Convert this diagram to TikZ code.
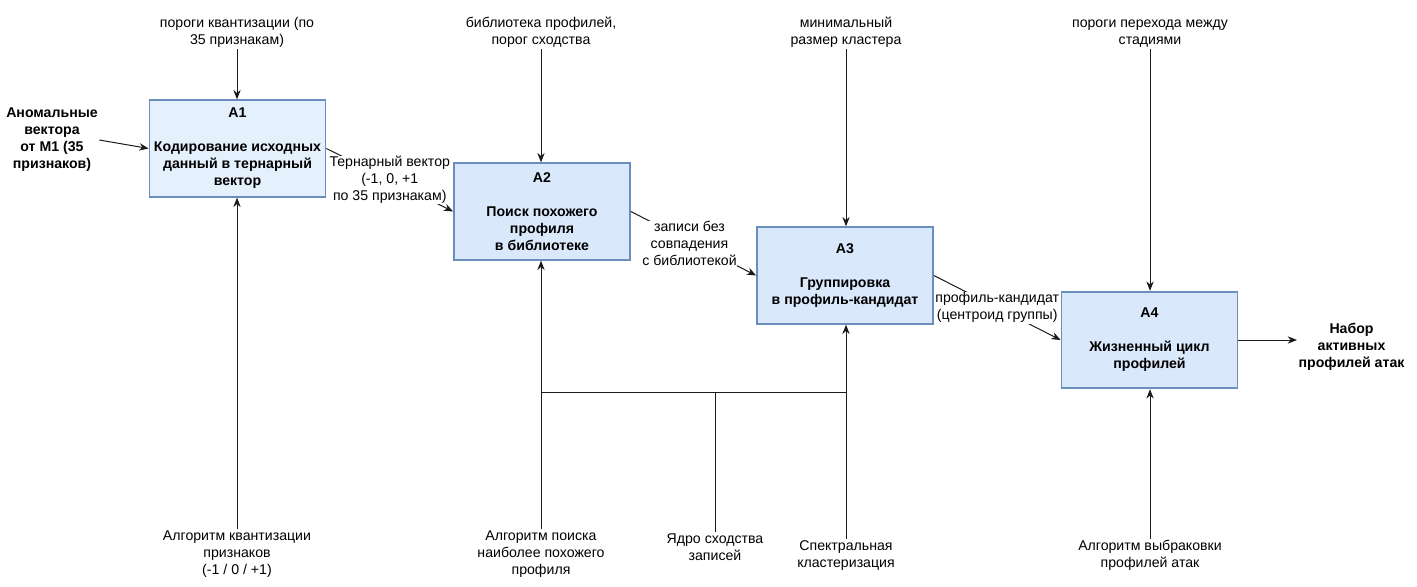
\documentclass[tikz,border=0pt]{standalone}
\usepackage{fontspec}
\setmainfont{Liberation Sans}
\usetikzlibrary{arrows.meta}
\definecolor{boxfill}{HTML}{DAE8FC}
\definecolor{boxfillA}{HTML}{E4F0FC}
\definecolor{boxline}{HTML}{6C8EBF}
\definecolor{wire}{HTML}{1A1A1A}
\tikzset{
  func/.style={draw=boxline, line width=1.3pt, fill=boxfill, minimum width=132pt,
    minimum height=72.5pt, align=center, inner sep=0pt,
    font=\fontsize{10.6}{12.75}\selectfont\bfseries},
  lbl/.style={align=center, inner sep=1pt, font=\fontsize{10.6}{12.75}\selectfont},
  blbl/.style={lbl, font=\fontsize{10.6}{12.75}\selectfont\bfseries},
  onwire/.style={lbl, fill=white, inner sep=0.5pt},
  wirestyle/.style={draw=wire, line width=0.75pt},
  arr/.style={wirestyle, -{Stealth[length=7pt,width=5.5pt]}},
}
\begin{document}
\begin{tikzpicture}[x=0.75pt, y=-0.75pt]
\useasboundingbox (0,0) rectangle (1417,586);

% function blocks
\node[func, fill=boxfillA] (A1) at (237.5,148.5) {A1\\[12.75pt]Кодирование исходных\\данный в тернарный\\вектор};
\node[func] (A2) at (542,211.5) {A2\\[12.75pt]Поиск похожего\\профиля\\в библиотеке};
\node[func] (A3) at (845,275.5) {A3\\[12.75pt]Группировка\\в профиль-кандидат};
\node[func] (A4) at (1149.5,340) {A4\\[12.75pt]Жизненный цикл\\профилей};

% controls (top)
\node[lbl, anchor=south] (c1) at (237,49) {пороги квантизации (по\\35 признакам)};
\node[lbl, anchor=south] (c2) at (541,49) {библиотека профилей,\\порог сходства};
\node[lbl, anchor=south] (c3) at (846,49) {минимальный\\размер кластера};
\node[lbl, anchor=south] (c4) at (1150,49) {пороги перехода между\\стадиями};

\draw[arr] (c1.south) -- (c1.south |- A1.north);
\draw[arr] (c2.south) -- (c2.south |- A2.north);
\draw[arr] (c3.south) -- (c3.south |- A3.north);
\draw[arr] (c4.south) -- (c4.south |- A4.north);

% mechanisms (bottom)
\node[lbl, anchor=north] (m1) at (237,529) {Алгоритм квантизации\\признаков\\(-1 / 0 / +1)};
\node[lbl, anchor=north] (m2) at (541,529) {Алгоритм поиска\\наиболее похожего\\профиля};
\node[lbl, anchor=north] (m3) at (846,539) {Спектральная\\кластеризация};
\node[lbl, anchor=north] (m5) at (715,532) {Ядро сходства\\записей};
\node[lbl, anchor=north] (m4) at (1150,539) {Алгоритм выбраковки\\профилей атак};

\draw[arr] (m1.north) -- (m1.north |- A1.south);
\draw[arr] (m2.north) -- (m2.north |- A2.south);
\draw[arr] (m3.north) -- (m3.north |- A3.south);
\draw[arr] (m4.north) -- (m4.north |- A4.south);

% shared similarity kernel feeding A2 and A3
\coordinate (J) at (715,392);
\draw[wirestyle] (m5.north) -- (J);
\draw[wirestyle] (m2.north |- J) -- (m3.north |- J);

% input and output
\node[blbl] (in) at (52,140) {Аномальные\\вектора\\от М1 (35\\признаков)};
\node[blbl, anchor=west] (out) at (1297,347) {Набор\\активных\\профилей атак};
\draw[arr] (in.east) -- (A1.west);
\draw[arr] (A4.east) -- (A4.east -| out.west);

% flows between blocks
\draw[arr] (A1.east) -- node[onwire] {Тернарный вектор\\(-1, 0, +1\\по 35 признакам)} (A2.west);
\draw[arr] (A2.east) -- node[onwire, xshift=-3pt] {записи без\\совпадения\\с библиотекой} (A3.west);
\draw[arr] (A3.east) -- node[onwire] {профиль-кандидат\\(центроид группы)} (A4.west);
\end{tikzpicture}
\end{document}
